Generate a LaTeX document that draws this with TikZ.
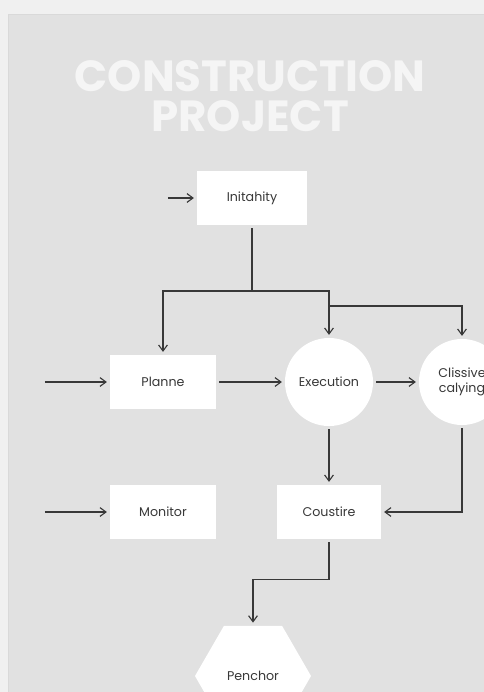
\documentclass[tikz,border=0pt]{standalone}
\usepackage{fontspec}
\setmainfont{Poppins}
\usetikzlibrary{arrows.meta,positioning,shapes.geometric}

\definecolor{paper}{HTML}{F0F0F0}
\definecolor{panel}{HTML}{E1E1E1}
\definecolor{ink}{HTML}{383838}

\begin{document}
\begin{tikzpicture}[
    x=0.025cm, y=-0.025cm,
    font=\fontsize{9}{10.5}\selectfont,
    box/.style={fill=white, text=ink, align=center, minimum width=2.65cm, minimum height=1.35cm, inner sep=2pt},
    blob/.style={circle, fill=white, text=ink, align=center, minimum size=2.2cm, inner sep=1pt},
    hexa/.style={regular polygon, regular polygon sides=6, fill=white, text=ink, minimum size=2.9cm, inner sep=0pt},
    flow/.style={-{Straight Barb[length=1.5mm,width=2.2mm]}, draw=ink, line width=0.8pt, shorten >=2pt, shorten <=2pt},
    link/.style={draw=ink, line width=0.8pt, shorten <=2pt}
  ]

  % Frame
  \useasboundingbox (0,0) rectangle (484,692);
  \clip (0,0) rectangle (484,692);
  \fill[paper] (0,0) rectangle (484,692);
  \draw[fill=panel, draw=black!15, line width=0.6pt] (8,14) rectangle (500,710);

  % Title
  \node[text=white!96!black, font=\fontsize{31}{28.5}\selectfont\bfseries, align=center] (title) at (250,96) {CONSTRUCTION\\PROJECT};

  % Nodes
  \node[box, minimum width=2.75cm] (initahity) at (252,198) {Initahity};
  \node[box] (planne) at (163,382) {Planne};
  \node[blob] (execution) at (329,382) {Execution};
  \node[blob, minimum size=2.15cm] (clissive) at (462,382) {Clissive\\calying};
  \node[box] (monitor) at (163,512) {Monitor};
  \node[box, minimum width=2.6cm] (coustire) at (329,512) {Coustire};
  \node[hexa] (penchor) at (253,676) {\raisebox{-1.5pt}{Penchor}};

  % Inputs
  \coordinate (in1) at (165,198);
  \coordinate (in2) at (42,382);
  \coordinate (in3) at (42,512);
  \draw[flow] (in1) -- (initahity);
  \draw[flow] (in2) -- (planne);
  \draw[flow] (in3) -- (monitor);

  % Branching from the top
  \coordinate (split1) at (252,291);
  \coordinate (split2) at (329,306);
  \draw[link] (initahity.south) -- (split1);
  \draw[flow, shorten <=0pt] (split1) -| (planne.north);
  \draw[flow, shorten <=0pt] (split1) -| (execution.north);
  \draw[flow, shorten <=0pt] (split2) -| (clissive.north);

  % Main row
  \draw[flow] (planne) -- (execution);
  \draw[flow] (execution) -- (clissive);
  \draw[flow] (execution.south) -- (coustire.north);
  \draw[flow] (clissive.south) |- (coustire.east);
  \draw[flow] (coustire.south) -- ++(0,40) -| (penchor.north);

\end{tikzpicture}
\end{document}
